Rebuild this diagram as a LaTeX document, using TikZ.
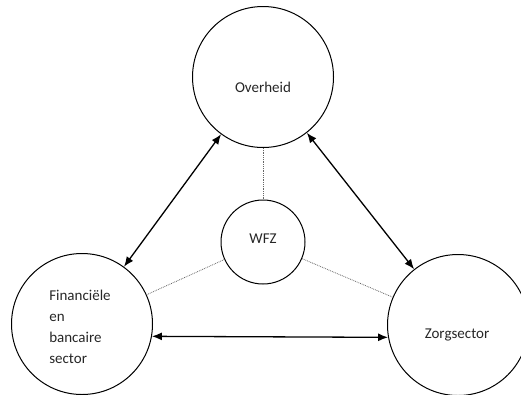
\documentclass[tikz,border=0pt]{standalone}
\usepackage{fontspec}
\setmainfont{Carlito}
\usetikzlibrary{arrows.meta}
\begin{document}
\begin{tikzpicture}[x=1pt,y=-1pt,
  bigcirc/.style={circle,draw=black,line width=1pt,minimum size=141pt,inner sep=0pt},
  smallcirc/.style={circle,draw=black,line width=1pt,minimum size=84pt,inner sep=0pt},
  txt/.style={font=\fontsize{15}{21}\selectfont,text=black!85,inner sep=0pt,align=left},
  rel/.style={{Latex[length=10pt,width=8pt]}-{Latex[length=10pt,width=8pt]},line width=1.3pt},
  link/.style={densely dotted,draw=black!60,line width=0.8pt}]
\useasboundingbox (0,0) rectangle (521,394);
\clip (0,0) rectangle (521,394);
\node[bigcirc] (ov) at (263,77) {};
\node[bigcirc] (fin) at (82,324) {};
\node[bigcirc] (zorg) at (458,325) {};
\node[smallcirc] (wfz) at (263,242) {};
\node[txt] (ovt) at (263,87) {Overheid};
\node[txt] (fint) at (80,327) {Financiële\\en\\bancaire\\sector};
\node[txt] (zorgt) at (457,335) {Zorgsector};
\node[txt] (wfzt) at (263,239) {WFZ};
\draw[rel] (ov) -- (fin);
\draw[rel] (ov) -- (zorg);
\draw[rel] (fin.-10) -- (zorg.190);
\draw[link] (ov) -- (wfz);
\draw[link] (wfz) -- (fin);
\draw[link] (wfz) -- (zorg);
\end{tikzpicture}
\end{document}
